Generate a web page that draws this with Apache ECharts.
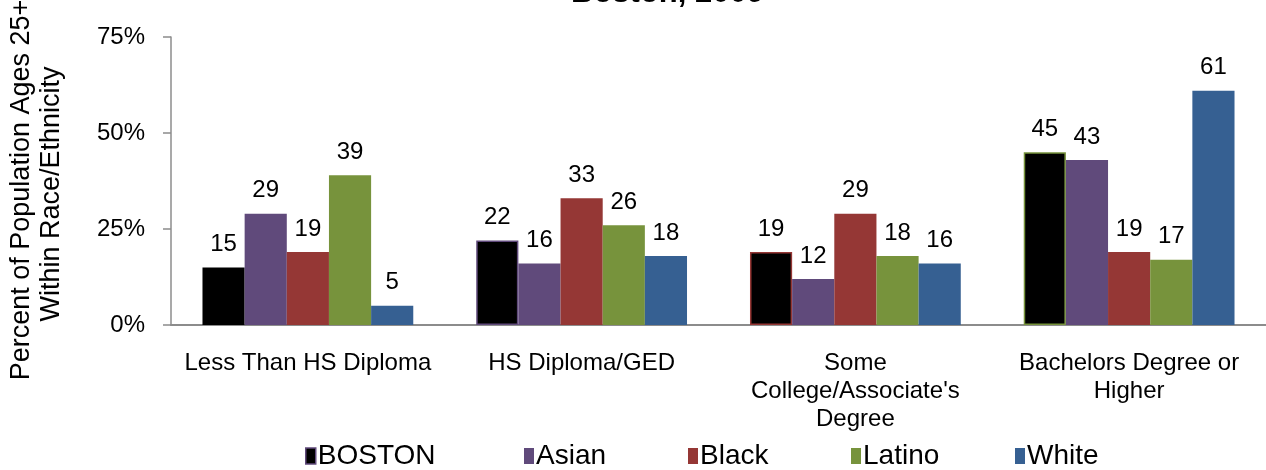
<!DOCTYPE html>
<html>
<head>
<meta charset="utf-8">
<script src="https://cdn.jsdelivr.net/npm/echarts@6/dist/echarts.min.js"></script>
<style>
  html, body { margin: 0; padding: 0; background: #fff; }
  #chart { width: 1266px; height: 470px; }
</style>
</head>
<body>
<div id="chart"></div>
<script>
// ---- data ----
const categories = ['Less Than HS Diploma', 'HS Diploma/GED', 'Some\nCollege/Associate\'s\nDegree', 'Bachelors Degree or\nHigher'];
const seriesNames = ['BOSTON', 'Asian', 'Black', 'Latino', 'White'];
const bostonValues = [15, 22, 19, 45];
const asianValues = [29, 16, 12, 43];
const blackValues = [19, 33, 29, 19];
const latinoValues = [39, 26, 18, 17];
const whiteValues = [5, 18, 16, 61];
const yTicks = [0, 25, 50, 75];
const titleText = 'Boston, 2009';
const yTitleLines = ['Percent of Population Ages 25+', 'Within Race/Ethnicity'];

// ---- styles ----
const colors = ['#000000', '#604A7B', '#953735', '#77933C', '#366092'];
const bostonBorders = [null, '#604A7B', '#953735', '#77933C'];
const FONT = "'Liberation Sans', Arial, Helvetica, sans-serif";

const allValues = [bostonValues, asianValues, blackValues, latinoValues, whiteValues];

const series = seriesNames.map((name, i) => ({
  name: name,
  type: 'bar',
  barGap: '0%',
  barCategoryGap: '23%',
  itemStyle: { color: colors[i] },
  data: allValues[i].map((v, j) => {
    if (i === 0 && bostonBorders[j]) {
      return { value: v, itemStyle: { borderColor: bostonBorders[j], borderWidth: 1.5 } };
    }
    return v;
  }),
  label: {
    show: true,
    position: 'top',
    distance: 11,
    fontSize: 24,
    fontFamily: FONT,
    color: '#000'
  }
}));

const legendLefts = [300, 519, 683, 846, 1010];
const legends = seriesNames.map((name, i) => ({
  data: [i === 0 ? { name: name, itemStyle: { borderColor: '#604A7B', borderWidth: 1.5 } } : name],
  left: legendLefts[i],
  top: 437,
  itemWidth: 10,
  itemHeight: 16,
  icon: 'rect',
  selectedMode: false,
  textStyle: { fontSize: 28, fontFamily: FONT, color: '#000', padding: [0, 0, 0, -3] }
}));

const chart = echarts.init(document.getElementById('chart'));
chart.setOption({
  animation: false,
  color: colors,
  title: {
    text: titleText,
    left: 566,
    top: -27,
    textStyle: { fontSize: 31, fontWeight: 'bold', fontFamily: FONT, color: '#000' }
  },
  legend: legends,
  grid: { left: 171, top: 37, width: 1099, bottom: 145, containLabel: false },
  xAxis: {
    type: 'category',
    data: categories,
    axisTick: { show: false },
    axisLine: { lineStyle: { color: '#8c8c8c', width: 2 } },
    axisLabel: { interval: 0, fontSize: 24, lineHeight: 28, margin: 24, fontFamily: FONT, color: '#000' }
  },
  yAxis: {
    type: 'value',
    min: yTicks[0],
    max: yTicks[yTicks.length - 1],
    interval: yTicks[1] - yTicks[0],
    splitLine: { show: false },
    axisLine: { show: true, lineStyle: { color: '#8c8c8c', width: 1.5 } },
    axisTick: { show: true, length: 8, lineStyle: { color: '#8c8c8c', width: 1.5 } },
    axisLabel: { formatter: '{value}%', fontSize: 24, margin: 26, fontFamily: FONT, color: '#000' }
  },
  graphic: [
    {
      type: 'text',
      x: 22, y: 190,
      rotation: Math.PI / 2,
      style: { text: yTitleLines[0], font: '27px ' + FONT, fill: '#000', textAlign: 'center', textVerticalAlign: 'middle' }
    },
    {
      type: 'text',
      x: 52, y: 194,
      rotation: Math.PI / 2,
      style: { text: yTitleLines[1], font: '27px ' + FONT, fill: '#000', textAlign: 'center', textVerticalAlign: 'middle' }
    }
  ],
  series: series
});
</script>
</body>
</html>
